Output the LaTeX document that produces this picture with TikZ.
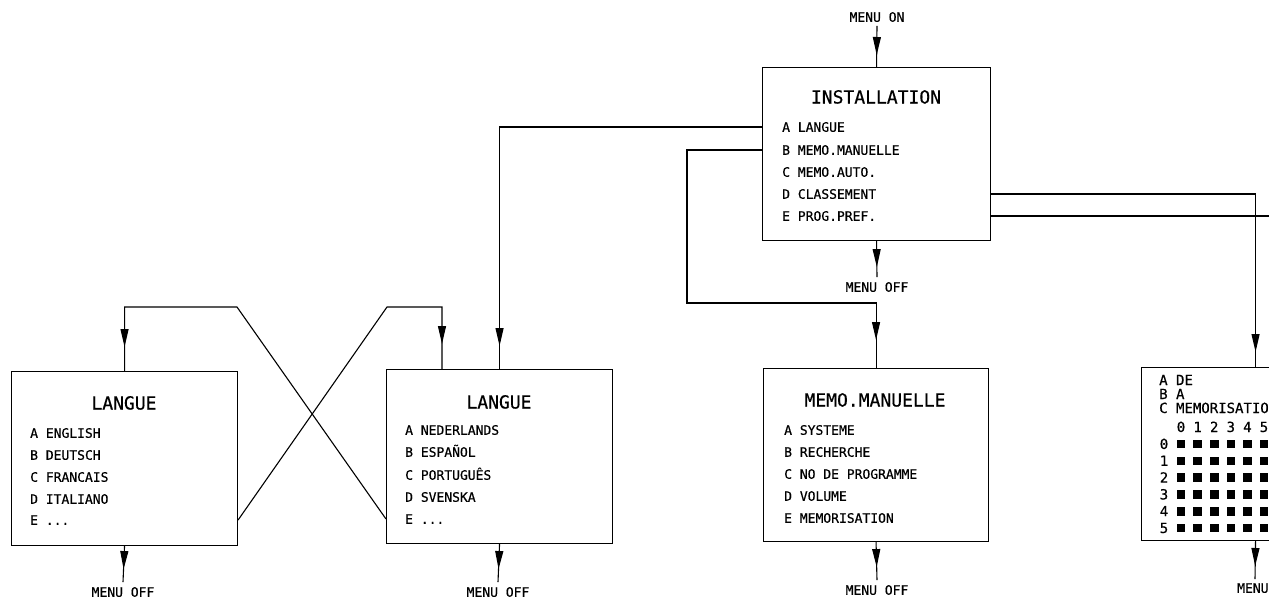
\documentclass[tikz,border=0pt]{standalone}
\usepackage{fontspec}
\newfontfamily\plotfont[FakeBold=0.5]{DejaVu Sans Mono}
\newcommand\itemfnt{\plotfont\fontsize{13}{15}\selectfont}
\newcommand\titlefnt{\plotfont\fontsize{18}{20}\selectfont}
\newcommand\gridfnt{\plotfont\fontsize{14}{15}\selectfont}
\usetikzlibrary{arrows.meta,decorations.markings}
\tikzset{
  conn/.style={draw, line width=1.1pt},
  arrowat/.style={conn, postaction={decorate}, decoration={markings,
      mark=at position -#1 with {\arrow{Triangle[length=18pt,width=8pt]}}}},
  box/.style={draw, line width=1.1pt, anchor=north west, inner sep=0pt},
  titletxt/.style={font=\titlefnt, inner sep=0pt, text height=13pt, text depth=0pt},
  itemtxt/.style={font=\itemfnt, anchor=west, inner sep=0pt, text height=9.5pt, text depth=0pt},
  gridtxt/.style={font=\gridfnt, anchor=west, inner sep=0pt, text height=10pt, text depth=0pt},
  digit/.style={font=\gridfnt, inner sep=0pt, text height=10pt, text depth=0pt},
  offtxt/.style={font=\itemfnt, inner sep=0pt, text height=9.5pt, text depth=0pt},
}
\begin{document}
\begin{tikzpicture}[x=1pt,y=-1pt]
\useasboundingbox (0,0) rectangle (1269,598);
\clip (0,0) rectangle (1269,598);

% ---------- INSTALLATION ----------
\node[box, minimum width=228pt, minimum height=173pt] (inst) at (762,67) {};
\node[titletxt] (instT) at (876,97) {INSTALLATION};
\node[itemtxt] (instA) at (782,127) {A LANGUE};
\node[itemtxt] (instB) at (782,150) {B MEMO.MANUELLE};
\node[itemtxt] (instC) at (782,172) {C MEMO.AUTO.};
\node[itemtxt] (instD) at (782,194) {D CLASSEMENT};
\node[itemtxt] (instE) at (782,216) {E PROG.PREF.};
\node[offtxt] (menuon) at (877,17) {MENU ON};
\node[offtxt] (instoff) at (877,287) {MENU OFF};

% ---------- LANGUE (left) ----------
\node[box, minimum width=226pt, minimum height=174pt] (langL) at (11,371) {};
\node[titletxt] (langLT) at (124,403) {LANGUE};
\node[itemtxt] (langLA) at (30,433) {A ENGLISH};
\node[itemtxt] (langLB) at (30,455) {B DEUTSCH};
\node[itemtxt] (langLC) at (30,477) {C FRANCAIS};
\node[itemtxt] (langLD) at (30,499) {D ITALIANO};
\node[itemtxt] (langLE) at (30,520) {E ...};
\node[offtxt] (offL) at (123,592) {MENU OFF};

% ---------- LANGUE (right) ----------
\node[box, minimum width=226pt, minimum height=174pt] (langR) at (386,369) {};
\node[titletxt] (langRT) at (499,402) {LANGUE};
\node[itemtxt] (langRA) at (405,430) {A NEDERLANDS};
\node[itemtxt] (langRB) at (405,452) {B ESPAÑOL};
\node[itemtxt] (langRC) at (405,475) {C PORTUGUÊS};
\node[itemtxt] (langRD) at (405,497) {D SVENSKA};
\node[itemtxt] (langRE) at (405,519) {E ...};
\node[offtxt] (offR) at (498,592) {MENU OFF};

% ---------- MEMO.MANUELLE ----------
\node[box, minimum width=225pt, minimum height=173pt] (memo) at (763,368) {};
\node[titletxt] (memoT) at (875,400) {MEMO.MANUELLE};
\node[itemtxt] (memoA) at (784,430) {A SYSTEME};
\node[itemtxt] (memoB) at (784,452) {B RECHERCHE};
\node[itemtxt] (memoC) at (784,474) {C NO DE PROGRAMME};
\node[itemtxt] (memoD) at (784,496) {D VOLUME};
\node[itemtxt] (memoE) at (784,518) {E MEMORISATION};
\node[offtxt] (offM) at (877,590) {MENU OFF};

% ---------- grid box (cut by the right edge) ----------
\node[box, minimum width=228pt, minimum height=173pt] (grid) at (1141,367) {};
\node[gridtxt] (gA) at (1159,380) {A DE};
\node[gridtxt] (gB) at (1159,394) {B A};
\node[gridtxt] (gC) at (1159,408) {C MEMORISATION};
\foreach \c in {0,...,5}{
  \node[digit] (h\c) at (1181+16.6*\c,427) {\c};
  \node[digit] (r\c) at (1164,444+16.8*\c) {\c};
  \foreach \k in {0,...,5}{
    \fill (1181+16.6*\k-4.3,444+16.8*\c-4.3) rectangle ++(8.6,8.6);
  }
}
\node[offtxt, anchor=west] (offG) at (1237,588) {MENU};

% ---------- connectors ----------
\coordinate (eend) at (1290,216);
\coordinate (bturn) at (687,303);
\coordinate (c1) at (237,307);
\coordinate (c2) at (387,307);
\coordinate (rin) at (442,307);

\draw[arrowat=12pt] ([yshift=-4pt]menuon.south) -- (inst.north);
\draw[arrowat=10pt] (inst.south) -- ([yshift=5pt]instoff.north);
\draw[arrowat=23pt] (inst.west |- instA) -| (langR.north);
\draw[arrowat=28pt] (inst.west |- instB) -| (bturn) -| (memo.north);
\draw[arrowat=15pt] (inst.east |- instD) -| (grid.north);
\draw[conn] (inst.east |- instE) -- (eend);

\draw[arrowat=24pt] (langR.west |- langRE) -- (c1) -| (langL.north);
\draw[arrowat=25pt] (langL.east |- langLE) -- (c2) -- (rin) -- (rin |- langR.north);

\draw[arrowat=13pt] (langL.south) -- ([yshift=5pt]offL.north);
\draw[arrowat=13pt] (langR.south) -- ([yshift=5pt]offR.north);
\draw[arrowat=13pt] (memo.south) -- ([yshift=5pt]offM.north);
\draw[arrowat=13pt] (grid.south) -- (1255,579);
\end{tikzpicture}
\end{document}
